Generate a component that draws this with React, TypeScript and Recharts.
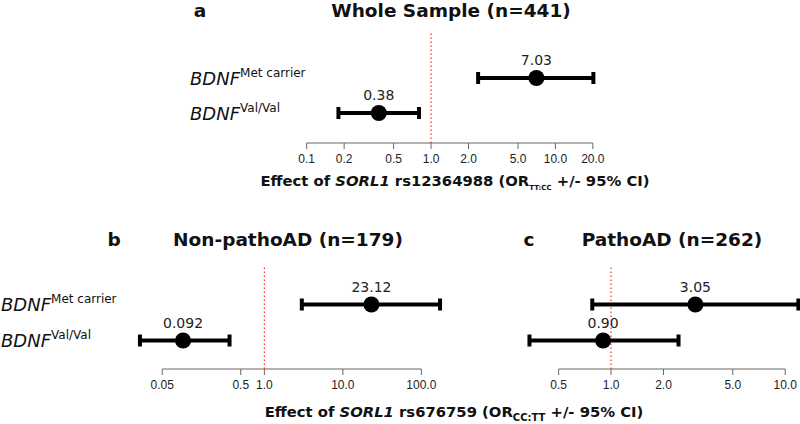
import React from "react";
import { ScatterChart, Scatter, XAxis, YAxis, ZAxis, ErrorBar, LabelList, ReferenceLine } from "recharts";

// rows (y position 2 = top row)
const rowNames = ["Met carrier", "Val/Val"];
const rowPos = [2, 1];

// a: whole sample
const aOR = [7.03, 0.38];
const aLow = [2.39, 0.18];
const aHigh = [20.2, 0.8];
const aLabels = ["7.03", "0.38"];
const aTicks = [0.1, 0.2, 0.5, 1, 2, 5, 10, 20];
const aTickLabels = ["0.1", "0.2", "0.5", "1.0", "2.0", "5.0", "10.0", "20.0"];

// b: non-pathoAD
const bOR = [23.12, 0.092];
const bLow = [3.0, 0.026];
const bHigh = [173, 0.36];
const bLabels = ["23.12", "0.092"];
const bTicks = [0.05, 0.5, 1, 10, 100];
const bTickLabels = ["0.05", "0.5", "1.0", "10.0", "100.0"];

// c: pathoAD
const cOR = [3.05, 0.9];
const cLow = [0.78, 0.34];
const cHigh = [11.9, 2.44];
const cLabels = ["3.05", "0.90"];
const cTicks = [0.5, 1, 2, 5, 10];
const cTickLabels = ["0.5", "1.0", "2.0", "5.0", "10.0"];

const SANS = "'DejaVu Sans', Verdana, sans-serif";

function buildRows(or: number[], low: number[], high: number[], labels: string[]) {
  return or.map((v, i) => ({
    x: v,
    y: rowPos[i],
    err: [v - low[i], high[i] - v],
    label: labels[i],
  }));
}

const Dot = (props: any) => <circle cx={props.cx} cy={props.cy} r={8} fill="#000" />;

function RowTick({ y, payload, labelX }: any) {
  const idx = rowPos.indexOf(payload.value);
  if (idx < 0) return null;
  return (
    <text x={labelX} y={y + 6.5} fontFamily={SANS} fontSize={18} fill="#111" textAnchor="start">
      <tspan fontStyle="italic">BDNF</tspan>
      <tspan dy={-8} fontSize={12}>{rowNames[idx]}</tspan>
    </text>
  );
}

interface PanelProps {
  or: number[];
  low: number[];
  high: number[];
  labels: string[];
  ticks: number[];
  tickLabels: string[];
  xDomain: [number, number];
  yDomain: [number, number];
  width: number;
  height: number;
  margin: { top: number; right: number; bottom: number; left: number };
  yWidth: number;
  labelX: number | null;
  axisHeight: number;
}

function ForestPanel(p: PanelProps) {
  const data = buildRows(p.or, p.low, p.high, p.labels);
  const yBase = p.yDomain[0];
  return (
    <ScatterChart width={p.width} height={p.height} margin={p.margin}>
      <XAxis
        type="number"
        dataKey="x"
        scale="log"
        domain={p.xDomain}
        ticks={p.ticks}
        interval={0}
        tickFormatter={(v: number, i: number) => p.tickLabels[i]}
        axisLine={false}
        tickLine={{ stroke: "#666" }}
        tickSize={6}
        tickMargin={5}
        height={p.axisHeight}
        tick={{ fontFamily: "'Liberation Sans', Arial, sans-serif", fontSize: 12, fill: "#222" }}
      />
      <YAxis
        type="number"
        dataKey="y"
        domain={p.yDomain}
        ticks={rowPos}
        hide={p.labelX === null}
        width={p.yWidth}
        axisLine={false}
        tickLine={false}
        tick={(tp: any) => <RowTick {...tp} labelX={p.labelX} />}
      />
      <ZAxis range={[200, 200]} />
      <ReferenceLine
        segment={[
          { x: p.ticks[0], y: yBase },
          { x: p.ticks[p.ticks.length - 1], y: yBase },
        ]}
        stroke="#666"
        strokeWidth={1}
      />
      <ReferenceLine x={1} stroke="#ee3333" strokeDasharray="1.5 2.5" strokeWidth={1.2} />
      <Scatter data={data} shape={Dot} isAnimationActive={false}>
        <ErrorBar dataKey="err" direction="x" width={6} stroke="#000" strokeWidth={4} />
        <LabelList
          dataKey="label"
          position="top"
          offset={8}
          style={{ fontFamily: SANS, fontSize: 14, fill: "#222" }}
        />
      </Scatter>
    </ScatterChart>
  );
}

const titleStyle: React.CSSProperties = {
  position: "absolute",
  fontFamily: SANS,
  fontWeight: 700,
  fontSize: 18.5,
  color: "#111",
  whiteSpace: "nowrap",
  lineHeight: 1,
  transform: "translateX(-50%)",
};

const axisTitleStyle: React.CSSProperties = {
  position: "absolute",
  fontFamily: SANS,
  fontWeight: 700,
  fontSize: 14.8,
  color: "#111",
  whiteSpace: "nowrap",
  lineHeight: 1,
  transform: "translateX(-50%)",
};

export default function App() {
  return (
    <div style={{ position: "absolute", left: 0, top: 0, width: 800, height: 424, background: "#fff", overflow: "hidden" }}>
      <div style={{ ...titleStyle, left: 200, top: 1.5 }}>a</div>
      <div style={{ ...titleStyle, left: 451, top: 1.5 }}>Whole Sample (n=441)</div>
      <div style={{ ...titleStyle, left: 114, top: 231 }}>b</div>
      <div style={{ ...titleStyle, left: 288, top: 231 }}>Non-pathoAD (n=179)</div>
      <div style={{ ...titleStyle, left: 529, top: 231 }}>c</div>
      <div style={{ ...titleStyle, left: 672, top: 231 }}>PathoAD (n=262)</div>

      <div style={{ position: "absolute", left: 0, top: 0 }}>
        <ForestPanel
          or={aOR}
          low={aLow}
          high={aHigh}
          labels={aLabels}
          ticks={aTicks}
          tickLabels={aTickLabels}
          xDomain={[0.09, 22]}
          yDomain={[0.143, 3.286]}
          width={800}
          height={200}
          margin={{ top: 33, right: 202, bottom: 12, left: 0 }}
          yWidth={301}
          labelX={190}
          axisHeight={45}
        />
      </div>
      <div style={{ position: "absolute", left: 0, top: 200 }}>
        <ForestPanel
          or={bOR}
          low={bLow}
          high={bHigh}
          labels={bLabels}
          ticks={bTicks}
          tickLabels={bTickLabels}
          xDomain={[0.02, 200]}
          yDomain={[0.208, 3.07]}
          width={460}
          height={224}
          margin={{ top: 66, right: 15, bottom: 15, left: 0 }}
          yWidth={131}
          labelX={1}
          axisHeight={40}
        />
      </div>
      <div style={{ position: "absolute", left: 470, top: 200 }}>
        <ForestPanel
          or={cOR}
          low={cLow}
          high={cHigh}
          labels={cLabels}
          ticks={cTicks}
          tickLabels={cTickLabels}
          xDomain={[0.3, 12]}
          yDomain={[0.208, 3.07]}
          width={330}
          height={224}
          margin={{ top: 66, right: 1, bottom: 15, left: 50 }}
          yWidth={0}
          labelX={null}
          axisHeight={40}
        />
      </div>

      <div style={{ ...axisTitleStyle, left: 455, top: 174 }}>
        Effect of <i>SORL1</i> rs12364988 (OR<sub style={{ fontSize: 7 }}>TT:CC</sub> +/- 95% CI)
      </div>
      <div style={{ ...axisTitleStyle, left: 454, top: 405 }}>
        Effect of <i>SORL1</i> rs676759 (OR<sub style={{ fontSize: 10 }}>CC:TT</sub> +/- 95% CI)
      </div>
    </div>
  );
}
